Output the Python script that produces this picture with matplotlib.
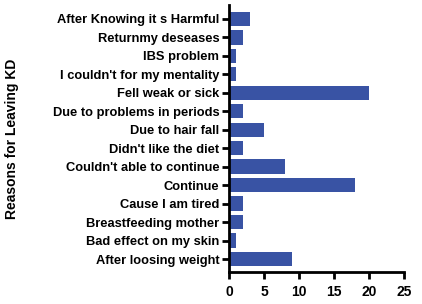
import matplotlib
matplotlib.use("Agg")
import matplotlib.pyplot as plt

reasons = [
    "After Knowing it s Harmful",
    "Returnmy deseases",
    "IBS problem",
    "I couldn't for my mentality",
    "Fell weak or sick",
    "Due to problems in periods",
    "Due to hair fall",
    "Didn't like the diet",
    "Couldn't able to continue",
    "Continue",
    "Cause I am tired",
    "Breastfeeding mother",
    "Bad effect on my skin",
    "After loosing weight",
]
counts = [3, 2, 1, 1, 20, 2, 5, 2, 8, 18, 2, 2, 1, 9]
xticks = [0, 5, 10, 15, 20, 25]

plt.rcParams["font.family"] = ["Liberation Sans", "DejaVu Sans"]
plt.rcParams["font.weight"] = "bold"

fig = plt.figure(figsize=(4.22, 3.04), dpi=100)
ax = fig.add_axes([229 / 422, 1 - 272 / 304, 175 / 422, 267 / 304])

pos = list(range(len(reasons)))
ax.barh(pos, counts, height=0.78, color="#3953a4")
ax.set_yticks(pos)
ax.set_yticklabels(reasons, fontsize=9.3, fontweight="bold")
ax.set_ylim(len(reasons) - 0.3, -0.75)
ax.set_xlim(0, 25)
ax.set_xticks(xticks)
ax.set_xticklabels([str(t) for t in xticks], fontsize=10, fontweight="bold")
ax.set_ylabel("Reasons for Leaving KD", fontsize=10, fontweight="bold")
ax.yaxis.set_label_coords(-1.2, 0.5)

for s in ["top", "right"]:
    ax.spines[s].set_visible(False)
for s in ["left", "bottom"]:
    ax.spines[s].set_linewidth(2)
ax.tick_params(width=2, length=5, pad=2)
ax.tick_params(axis="x", pad=4)

fig.savefig("out.png", dpi=100)
